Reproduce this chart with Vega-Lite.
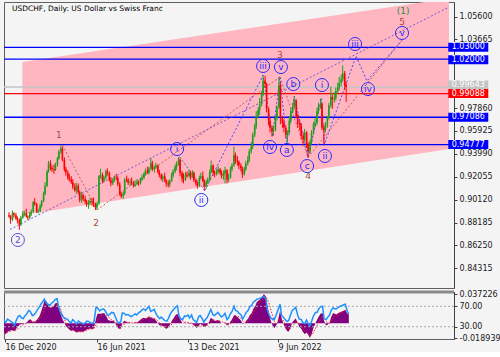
{
"$schema": "https://vega.github.io/schema/vega-lite/v6.json",
"background": "#f4f4f4",
"padding": {"left": 2, "top": 1, "right": 0, "bottom": 0},
"bounds": "flush",
"config": {"font": "DejaVu Sans", "view": {"stroke": "#606060", "strokeWidth": 1}, "axis": {"labelFont": "DejaVu Sans", "labelFontSize": 8, "labelColor": "#1a1a1a", "domainColor": "#404040", "tickColor": "#404040", "grid": false, "title": null, "labelOverlap": false, "labelFlush": false, "labelBound": false}},
"spacing": 4,
"datasets": {
"b": [
{"d":"2020-12-14","o":0.888,"h":0.8905,"l":0.886,"c":0.887,"m":-0.013,"s":-0.012,"r":42},
{"d":"2020-12-17","o":0.887,"h":0.888,"l":0.8808,"c":0.8845,"m":-0.014,"s":-0.013,"r":38},
{"d":"2020-12-21","o":0.8845,"h":0.892,"l":0.883,"c":0.8895,"m":-0.011,"s":-0.012,"r":45},
{"d":"2020-12-24","o":0.8895,"h":0.8905,"l":0.886,"c":0.888,"m":-0.01,"s":-0.011,"r":43},
{"d":"2020-12-28","o":0.888,"h":0.89,"l":0.884,"c":0.8855,"m":-0.009,"s":-0.01,"r":40},
{"d":"2020-12-31","o":0.8855,"h":0.887,"l":0.881,"c":0.884,"m":-0.009,"s":-0.009,"r":38},
{"d":"2021-01-04","o":0.884,"h":0.885,"l":0.8757,"c":0.88,"m":-0.01,"s":-0.0095,"r":33},
{"d":"2021-01-07","o":0.88,"h":0.8875,"l":0.879,"c":0.886,"m":-0.007,"s":-0.0085,"r":42},
{"d":"2021-01-11","o":0.886,"h":0.8915,"l":0.885,"c":0.889,"m":-0.004,"s":-0.007,"r":50},
{"d":"2021-01-14","o":0.889,"h":0.892,"l":0.887,"c":0.89,"m":-0.002,"s":-0.005,"r":52},
{"d":"2021-01-18","o":0.89,"h":0.8935,"l":0.886,"c":0.887,"m":-0.001,"s":-0.003,"r":47},
{"d":"2021-01-21","o":0.887,"h":0.888,"l":0.884,"c":0.886,"m":-0.001,"s":-0.002,"r":46},
{"d":"2021-01-25","o":0.886,"h":0.891,"l":0.885,"c":0.8895,"m":0.0,"s":-0.001,"r":52},
{"d":"2021-01-28","o":0.8895,"h":0.893,"l":0.8875,"c":0.891,"m":0.001,"s":0.0,"r":55},
{"d":"2021-02-01","o":0.891,"h":0.9,"l":0.89,"c":0.899,"m":0.004,"s":0.001,"r":62},
{"d":"2021-02-04","o":0.899,"h":0.9025,"l":0.896,"c":0.8975,"m":0.005,"s":0.003,"r":60},
{"d":"2021-02-08","o":0.8975,"h":0.8985,"l":0.89,"c":0.891,"m":0.002,"s":0.003,"r":52},
{"d":"2021-02-11","o":0.891,"h":0.8935,"l":0.8895,"c":0.8915,"m":0.001,"s":0.002,"r":53},
{"d":"2021-02-15","o":0.8915,"h":0.8975,"l":0.8905,"c":0.896,"m":0.003,"s":0.002,"r":58},
{"d":"2021-02-18","o":0.896,"h":0.901,"l":0.8945,"c":0.9,"m":0.005,"s":0.003,"r":63},
{"d":"2021-02-22","o":0.9,"h":0.908,"l":0.899,"c":0.906,"m":0.009,"s":0.006,"r":69},
{"d":"2021-02-25","o":0.906,"h":0.916,"l":0.905,"c":0.913,"m":0.014,"s":0.009,"r":74},
{"d":"2021-03-01","o":0.913,"h":0.9265,"l":0.912,"c":0.925,"m":0.022,"s":0.014,"r":80},
{"d":"2021-03-04","o":0.925,"h":0.934,"l":0.924,"c":0.932,"m":0.029,"s":0.02,"r":84},
{"d":"2021-03-08","o":0.932,"h":0.9345,"l":0.926,"c":0.928,"m":0.028,"s":0.024,"r":76},
{"d":"2021-03-11","o":0.928,"h":0.93,"l":0.9245,"c":0.927,"m":0.024,"s":0.025,"r":74},
{"d":"2021-03-15","o":0.927,"h":0.931,"l":0.923,"c":0.926,"m":0.02,"s":0.023,"r":72},
{"d":"2021-03-18","o":0.926,"h":0.9325,"l":0.9255,"c":0.931,"m":0.02,"s":0.021,"r":76},
{"d":"2021-03-22","o":0.931,"h":0.9375,"l":0.929,"c":0.936,"m":0.022,"s":0.021,"r":79},
{"d":"2021-03-25","o":0.936,"h":0.9435,"l":0.935,"c":0.942,"m":0.025,"s":0.023,"r":83},
{"d":"2021-03-29","o":0.942,"h":0.9473,"l":0.94,"c":0.9445,"m":0.026,"s":0.024,"r":85},
{"d":"2021-04-01","o":0.9445,"h":0.946,"l":0.9335,"c":0.935,"m":0.02,"s":0.023,"r":68},
{"d":"2021-04-05","o":0.935,"h":0.937,"l":0.925,"c":0.927,"m":0.012,"s":0.018,"r":57},
{"d":"2021-04-08","o":0.927,"h":0.929,"l":0.9215,"c":0.924,"m":0.006,"s":0.012,"r":52},
{"d":"2021-04-12","o":0.924,"h":0.926,"l":0.918,"c":0.92,"m":0.001,"s":0.006,"r":47},
{"d":"2021-04-15","o":0.92,"h":0.923,"l":0.9165,"c":0.9185,"m":-0.003,"s":0.001,"r":46},
{"d":"2021-04-19","o":0.9185,"h":0.921,"l":0.9145,"c":0.916,"m":-0.006,"s":-0.003,"r":44},
{"d":"2021-04-22","o":0.916,"h":0.9185,"l":0.91,"c":0.912,"m":-0.008,"s":-0.006,"r":40},
{"d":"2021-04-26","o":0.912,"h":0.915,"l":0.908,"c":0.909,"m":-0.01,"s":-0.008,"r":38},
{"d":"2021-04-29","o":0.909,"h":0.9155,"l":0.906,"c":0.913,"m":-0.009,"s":-0.009,"r":44},
{"d":"2021-05-03","o":0.913,"h":0.915,"l":0.906,"c":0.9075,"m":-0.01,"s":-0.01,"r":40},
{"d":"2021-05-06","o":0.9075,"h":0.909,"l":0.899,"c":0.901,"m":-0.012,"s":-0.011,"r":35},
{"d":"2021-05-10","o":0.901,"h":0.908,"l":0.8985,"c":0.905,"m":-0.011,"s":-0.011,"r":41},
{"d":"2021-05-13","o":0.905,"h":0.9065,"l":0.9,"c":0.902,"m":-0.011,"s":-0.011,"r":39},
{"d":"2021-05-17","o":0.902,"h":0.9045,"l":0.8975,"c":0.8995,"m":-0.011,"s":-0.011,"r":37},
{"d":"2021-05-20","o":0.8995,"h":0.901,"l":0.895,"c":0.897,"m":-0.011,"s":-0.011,"r":35},
{"d":"2021-05-24","o":0.897,"h":0.901,"l":0.8935,"c":0.8985,"m":-0.009,"s":-0.01,"r":38},
{"d":"2021-05-27","o":0.8985,"h":0.903,"l":0.8965,"c":0.9,"m":-0.008,"s":-0.009,"r":41},
{"d":"2021-05-31","o":0.9,"h":0.9025,"l":0.896,"c":0.899,"m":-0.007,"s":-0.008,"r":40},
{"d":"2021-06-03","o":0.899,"h":0.903,"l":0.895,"c":0.897,"m":-0.007,"s":-0.007,"r":38},
{"d":"2021-06-07","o":0.897,"h":0.8985,"l":0.8925,"c":0.8945,"m":-0.008,"s":-0.007,"r":36},
{"d":"2021-06-10","o":0.8945,"h":0.8995,"l":0.893,"c":0.898,"m":-0.006,"s":-0.007,"r":40},
{"d":"2021-06-14","o":0.898,"h":0.922,"l":0.8965,"c":0.921,"m":0.006,"s":-0.002,"r":68},
{"d":"2021-06-17","o":0.921,"h":0.9274,"l":0.919,"c":0.922,"m":0.012,"s":0.004,"r":67},
{"d":"2021-06-21","o":0.922,"h":0.924,"l":0.915,"c":0.917,"m":0.012,"s":0.008,"r":61},
{"d":"2021-06-24","o":0.917,"h":0.9215,"l":0.916,"c":0.92,"m":0.012,"s":0.01,"r":63},
{"d":"2021-06-28","o":0.92,"h":0.9265,"l":0.918,"c":0.925,"m":0.013,"s":0.011,"r":65},
{"d":"2021-07-01","o":0.925,"h":0.9275,"l":0.9215,"c":0.9235,"m":0.012,"s":0.012,"r":63},
{"d":"2021-07-05","o":0.9235,"h":0.925,"l":0.9165,"c":0.918,"m":0.008,"s":0.01,"r":56},
{"d":"2021-07-08","o":0.918,"h":0.92,"l":0.9125,"c":0.915,"m":0.004,"s":0.008,"r":52},
{"d":"2021-07-12","o":0.915,"h":0.9195,"l":0.9135,"c":0.9175,"m":0.003,"s":0.006,"r":55},
{"d":"2021-07-15","o":0.9175,"h":0.9215,"l":0.916,"c":0.92,"m":0.003,"s":0.004,"r":58},
{"d":"2021-07-19","o":0.92,"h":0.923,"l":0.9175,"c":0.9195,"m":0.003,"s":0.003,"r":57},
{"d":"2021-07-22","o":0.9195,"h":0.921,"l":0.9125,"c":0.914,"m":0.0,"s":0.002,"r":50},
{"d":"2021-07-26","o":0.914,"h":0.916,"l":0.9045,"c":0.906,"m":-0.005,"s":-0.001,"r":40},
{"d":"2021-07-29","o":0.906,"h":0.908,"l":0.9025,"c":0.904,"m":-0.007,"s":-0.004,"r":37},
{"d":"2021-08-02","o":0.904,"h":0.908,"l":0.9018,"c":0.9065,"m":-0.007,"s":-0.006,"r":40},
{"d":"2021-08-05","o":0.9065,"h":0.9195,"l":0.905,"c":0.918,"m":0.0,"s":-0.004,"r":57},
{"d":"2021-08-09","o":0.918,"h":0.9215,"l":0.916,"c":0.9175,"m":0.003,"s":-0.001,"r":56},
{"d":"2021-08-12","o":0.9175,"h":0.9195,"l":0.9135,"c":0.9155,"m":0.002,"s":0.001,"r":53},
{"d":"2021-08-16","o":0.9155,"h":0.9185,"l":0.913,"c":0.916,"m":0.001,"s":0.001,"r":54},
{"d":"2021-08-19","o":0.916,"h":0.92,"l":0.9135,"c":0.915,"m":0.001,"s":0.001,"r":52},
{"d":"2021-08-23","o":0.915,"h":0.917,"l":0.9115,"c":0.913,"m":0.0,"s":0.001,"r":50},
{"d":"2021-08-26","o":0.913,"h":0.9175,"l":0.912,"c":0.914,"m":0.0,"s":0.0,"r":52},
{"d":"2021-08-30","o":0.914,"h":0.9185,"l":0.914,"c":0.916,"m":0.001,"s":0.001,"r":55},
{"d":"2021-09-02","o":0.916,"h":0.9175,"l":0.913,"c":0.915,"m":0.001,"s":0.001,"r":53},
{"d":"2021-09-06","o":0.915,"h":0.9195,"l":0.914,"c":0.918,"m":0.002,"s":0.001,"r":57},
{"d":"2021-09-09","o":0.918,"h":0.9225,"l":0.917,"c":0.92,"m":0.004,"s":0.002,"r":59},
{"d":"2021-09-13","o":0.92,"h":0.9245,"l":0.9185,"c":0.923,"m":0.006,"s":0.004,"r":63},
{"d":"2021-09-16","o":0.923,"h":0.9275,"l":0.9215,"c":0.9255,"m":0.007,"s":0.005,"r":65},
{"d":"2021-09-20","o":0.9255,"h":0.929,"l":0.923,"c":0.924,"m":0.006,"s":0.006,"r":62},
{"d":"2021-09-23","o":0.924,"h":0.929,"l":0.9225,"c":0.9275,"m":0.007,"s":0.006,"r":66},
{"d":"2021-09-27","o":0.9275,"h":0.9365,"l":0.926,"c":0.932,"m":0.009,"s":0.007,"r":70},
{"d":"2021-09-30","o":0.932,"h":0.934,"l":0.9255,"c":0.927,"m":0.007,"s":0.007,"r":60},
{"d":"2021-10-04","o":0.927,"h":0.93,"l":0.924,"c":0.9285,"m":0.006,"s":0.007,"r":62},
{"d":"2021-10-07","o":0.9285,"h":0.9325,"l":0.927,"c":0.93,"m":0.006,"s":0.006,"r":64},
{"d":"2021-10-11","o":0.93,"h":0.931,"l":0.9235,"c":0.925,"m":0.003,"s":0.005,"r":55},
{"d":"2021-10-14","o":0.925,"h":0.9265,"l":0.92,"c":0.922,"m":0.0,"s":0.003,"r":50},
{"d":"2021-10-18","o":0.922,"h":0.9235,"l":0.9175,"c":0.919,"m":-0.003,"s":0.0,"r":46},
{"d":"2021-10-21","o":0.919,"h":0.9225,"l":0.916,"c":0.921,"m":-0.003,"s":-0.002,"r":49},
{"d":"2021-10-25","o":0.921,"h":0.924,"l":0.916,"c":0.9175,"m":-0.004,"s":-0.003,"r":45},
{"d":"2021-10-28","o":0.9175,"h":0.9185,"l":0.912,"c":0.915,"m":-0.006,"s":-0.004,"r":42},
{"d":"2021-11-01","o":0.915,"h":0.9175,"l":0.9115,"c":0.914,"m":-0.007,"s":-0.005,"r":41},
{"d":"2021-11-04","o":0.914,"h":0.9185,"l":0.912,"c":0.917,"m":-0.005,"s":-0.005,"r":46},
{"d":"2021-11-08","o":0.917,"h":0.924,"l":0.916,"c":0.9215,"m":-0.001,"s":-0.004,"r":55},
{"d":"2021-11-11","o":0.9215,"h":0.927,"l":0.92,"c":0.925,"m":0.003,"s":-0.001,"r":60},
{"d":"2021-11-15","o":0.925,"h":0.931,"l":0.9235,"c":0.929,"m":0.007,"s":0.003,"r":64},
{"d":"2021-11-18","o":0.929,"h":0.9335,"l":0.926,"c":0.932,"m":0.01,"s":0.006,"r":68},
{"d":"2021-11-22","o":0.932,"h":0.9373,"l":0.93,"c":0.935,"m":0.012,"s":0.009,"r":71},
{"d":"2021-11-25","o":0.935,"h":0.936,"l":0.921,"c":0.924,"m":0.008,"s":0.009,"r":52},
{"d":"2021-11-29","o":0.924,"h":0.9255,"l":0.916,"c":0.919,"m":0.003,"s":0.006,"r":45},
{"d":"2021-12-02","o":0.919,"h":0.9235,"l":0.915,"c":0.918,"m":0.0,"s":0.003,"r":44},
{"d":"2021-12-06","o":0.918,"h":0.9245,"l":0.917,"c":0.9225,"m":0.001,"s":0.002,"r":51},
{"d":"2021-12-09","o":0.9225,"h":0.925,"l":0.9195,"c":0.9215,"m":0.0,"s":0.001,"r":50},
{"d":"2021-12-13","o":0.9215,"h":0.9265,"l":0.92,"c":0.924,"m":0.001,"s":0.001,"r":53},
{"d":"2021-12-16","o":0.924,"h":0.9255,"l":0.918,"c":0.92,"m":-0.001,"s":0.0,"r":47},
{"d":"2021-12-20","o":0.92,"h":0.926,"l":0.9195,"c":0.924,"m":0.0,"s":0.0,"r":53},
{"d":"2021-12-23","o":0.924,"h":0.925,"l":0.916,"c":0.9175,"m":-0.002,"s":-0.001,"r":44},
{"d":"2021-12-27","o":0.9175,"h":0.919,"l":0.913,"c":0.915,"m":-0.004,"s":-0.002,"r":41},
{"d":"2021-12-30","o":0.915,"h":0.9165,"l":0.9105,"c":0.913,"m":-0.006,"s":-0.004,"r":38},
{"d":"2022-01-03","o":0.913,"h":0.9215,"l":0.912,"c":0.9195,"m":-0.003,"s":-0.004,"r":50},
{"d":"2022-01-06","o":0.9195,"h":0.924,"l":0.918,"c":0.921,"m":-0.001,"s":-0.003,"r":52},
{"d":"2022-01-10","o":0.921,"h":0.925,"l":0.916,"c":0.917,"m":-0.002,"s":-0.002,"r":46},
{"d":"2022-01-13","o":0.917,"h":0.9185,"l":0.9089,"c":0.912,"m":-0.005,"s":-0.003,"r":39},
{"d":"2022-01-17","o":0.912,"h":0.918,"l":0.9105,"c":0.916,"m":-0.004,"s":-0.004,"r":45},
{"d":"2022-01-20","o":0.916,"h":0.92,"l":0.9145,"c":0.918,"m":-0.002,"s":-0.003,"r":48},
{"d":"2022-01-24","o":0.918,"h":0.9265,"l":0.9165,"c":0.9245,"m":0.002,"s":-0.001,"r":57},
{"d":"2022-01-27","o":0.9245,"h":0.9343,"l":0.9235,"c":0.93,"m":0.007,"s":0.002,"r":64},
{"d":"2022-01-31","o":0.93,"h":0.931,"l":0.9215,"c":0.924,"m":0.005,"s":0.004,"r":54},
{"d":"2022-02-03","o":0.924,"h":0.926,"l":0.92,"c":0.923,"m":0.003,"s":0.004,"r":52},
{"d":"2022-02-07","o":0.923,"h":0.927,"l":0.9215,"c":0.9245,"m":0.003,"s":0.003,"r":55},
{"d":"2022-02-10","o":0.9245,"h":0.9295,"l":0.923,"c":0.927,"m":0.004,"s":0.003,"r":58},
{"d":"2022-02-14","o":0.927,"h":0.928,"l":0.922,"c":0.924,"m":0.002,"s":0.003,"r":53},
{"d":"2022-02-17","o":0.924,"h":0.926,"l":0.919,"c":0.921,"m":0.0,"s":0.002,"r":49},
{"d":"2022-02-21","o":0.921,"h":0.926,"l":0.918,"c":0.923,"m":0.0,"s":0.001,"r":52},
{"d":"2022-02-24","o":0.923,"h":0.929,"l":0.915,"c":0.926,"m":0.001,"s":0.001,"r":56},
{"d":"2022-02-28","o":0.926,"h":0.927,"l":0.915,"c":0.918,"m":-0.003,"s":-0.001,"r":44},
{"d":"2022-03-03","o":0.918,"h":0.923,"l":0.916,"c":0.92,"m":-0.002,"s":-0.002,"r":47},
{"d":"2022-03-07","o":0.92,"h":0.929,"l":0.919,"c":0.927,"m":0.002,"s":-0.001,"r":56},
{"d":"2022-03-10","o":0.927,"h":0.932,"l":0.925,"c":0.93,"m":0.005,"s":0.001,"r":60},
{"d":"2022-03-14","o":0.93,"h":0.946,"l":0.929,"c":0.939,"m":0.01,"s":0.005,"r":70},
{"d":"2022-03-17","o":0.939,"h":0.941,"l":0.9315,"c":0.934,"m":0.01,"s":0.008,"r":62},
{"d":"2022-03-21","o":0.934,"h":0.938,"l":0.93,"c":0.933,"m":0.008,"s":0.009,"r":60},
{"d":"2022-03-24","o":0.933,"h":0.9345,"l":0.927,"c":0.93,"m":0.006,"s":0.008,"r":56},
{"d":"2022-03-28","o":0.93,"h":0.932,"l":0.925,"c":0.928,"m":0.003,"s":0.006,"r":53},
{"d":"2022-03-31","o":0.928,"h":0.929,"l":0.9195,"c":0.9225,"m":-0.001,"s":0.003,"r":45},
{"d":"2022-04-04","o":0.9225,"h":0.929,"l":0.9215,"c":0.927,"m":0.0,"s":0.001,"r":52},
{"d":"2022-04-07","o":0.927,"h":0.934,"l":0.9255,"c":0.932,"m":0.003,"s":0.001,"r":58},
{"d":"2022-04-11","o":0.932,"h":0.938,"l":0.93,"c":0.935,"m":0.006,"s":0.003,"r":62},
{"d":"2022-04-14","o":0.935,"h":0.944,"l":0.933,"c":0.942,"m":0.01,"s":0.006,"r":69},
{"d":"2022-04-18","o":0.942,"h":0.95,"l":0.94,"c":0.946,"m":0.013,"s":0.009,"r":72},
{"d":"2022-04-21","o":0.946,"h":0.958,"l":0.944,"c":0.956,"m":0.018,"s":0.013,"r":78},
{"d":"2022-04-25","o":0.956,"h":0.9655,"l":0.954,"c":0.963,"m":0.022,"s":0.017,"r":81},
{"d":"2022-04-28","o":0.963,"h":0.976,"l":0.961,"c":0.972,"m":0.027,"s":0.021,"r":84},
{"d":"2022-05-02","o":0.972,"h":0.9795,"l":0.97,"c":0.977,"m":0.029,"s":0.025,"r":85},
{"d":"2022-05-05","o":0.977,"h":0.987,"l":0.973,"c":0.982,"m":0.031,"s":0.028,"r":86},
{"d":"2022-05-09","o":0.982,"h":0.993,"l":0.98,"c":0.99,"m":0.034,"s":0.03,"r":88},
{"d":"2022-05-12","o":0.99,"h":1.0064,"l":0.9885,"c":1.002,"m":0.037,"s":0.033,"r":89},
{"d":"2022-05-16","o":1.002,"h":1.006,"l":0.9955,"c":0.999,"m":0.034,"s":0.034,"r":84},
{"d":"2022-05-19","o":0.999,"h":1.0,"l":0.975,"c":0.978,"m":0.022,"s":0.03,"r":62},
{"d":"2022-05-23","o":0.978,"h":0.979,"l":0.964,"c":0.968,"m":0.01,"s":0.024,"r":52},
{"d":"2022-05-26","o":0.968,"h":0.97,"l":0.958,"c":0.962,"m":0.002,"s":0.016,"r":47},
{"d":"2022-05-30","o":0.962,"h":0.964,"l":0.9545,"c":0.959,"m":-0.004,"s":0.008,"r":44},
{"d":"2022-06-02","o":0.959,"h":0.964,"l":0.9555,"c":0.96,"m":-0.006,"s":0.002,"r":45},
{"d":"2022-06-06","o":0.96,"h":0.972,"l":0.959,"c":0.97,"m":-0.002,"s":-0.001,"r":55},
{"d":"2022-06-09","o":0.97,"h":0.981,"l":0.968,"c":0.979,"m":0.004,"s":0.0,"r":63},
{"d":"2022-06-13","o":0.979,"h":1.0049,"l":0.978,"c":0.998,"m":0.016,"s":0.006,"r":74},
{"d":"2022-06-16","o":0.998,"h":1.0,"l":0.965,"c":0.97,"m":0.006,"s":0.006,"r":52},
{"d":"2022-06-20","o":0.97,"h":0.972,"l":0.962,"c":0.966,"m":-0.001,"s":0.003,"r":48},
{"d":"2022-06-23","o":0.966,"h":0.969,"l":0.958,"c":0.962,"m":-0.006,"s":-0.001,"r":44},
{"d":"2022-06-27","o":0.962,"h":0.964,"l":0.953,"c":0.956,"m":-0.01,"s":-0.005,"r":40},
{"d":"2022-06-30","o":0.956,"h":0.96,"l":0.9495,"c":0.958,"m":-0.011,"s":-0.008,"r":42},
{"d":"2022-07-04","o":0.958,"h":0.972,"l":0.956,"c":0.968,"m":-0.005,"s":-0.007,"r":54},
{"d":"2022-07-07","o":0.968,"h":0.979,"l":0.966,"c":0.976,"m":0.001,"s":-0.004,"r":62},
{"d":"2022-07-11","o":0.976,"h":0.983,"l":0.974,"c":0.98,"m":0.004,"s":-0.001,"r":65},
{"d":"2022-07-14","o":0.98,"h":0.9886,"l":0.978,"c":0.985,"m":0.006,"s":0.002,"r":68},
{"d":"2022-07-18","o":0.985,"h":0.986,"l":0.97,"c":0.972,"m":0.0,"s":0.001,"r":52},
{"d":"2022-07-21","o":0.972,"h":0.974,"l":0.962,"c":0.965,"m":-0.005,"s":-0.001,"r":45},
{"d":"2022-07-25","o":0.965,"h":0.968,"l":0.96,"c":0.964,"m":-0.007,"s":-0.004,"r":44},
{"d":"2022-07-28","o":0.964,"h":0.966,"l":0.952,"c":0.955,"m":-0.011,"s":-0.007,"r":38},
{"d":"2022-08-01","o":0.955,"h":0.958,"l":0.947,"c":0.952,"m":-0.014,"s":-0.01,"r":36},
{"d":"2022-08-04","o":0.952,"h":0.961,"l":0.95,"c":0.958,"m":-0.012,"s":-0.011,"r":43},
{"d":"2022-08-08","o":0.958,"h":0.959,"l":0.945,"c":0.948,"m":-0.015,"s":-0.013,"r":35},
{"d":"2022-08-11","o":0.948,"h":0.95,"l":0.937,"c":0.942,"m":-0.0189,"s":-0.015,"r":31},
{"d":"2022-08-15","o":0.942,"h":0.952,"l":0.94,"c":0.95,"m":-0.013,"s":-0.015,"r":42},
{"d":"2022-08-18","o":0.95,"h":0.96,"l":0.948,"c":0.958,"m":-0.006,"s":-0.012,"r":51},
{"d":"2022-08-22","o":0.958,"h":0.967,"l":0.956,"c":0.965,"m":0.0,"s":-0.007,"r":58},
{"d":"2022-08-25","o":0.965,"h":0.97,"l":0.962,"c":0.966,"m":0.004,"s":-0.003,"r":58},
{"d":"2022-08-29","o":0.966,"h":0.979,"l":0.964,"c":0.976,"m":0.009,"s":0.002,"r":66},
{"d":"2022-09-01","o":0.976,"h":0.983,"l":0.974,"c":0.98,"m":0.012,"s":0.006,"r":69},
{"d":"2022-09-05","o":0.98,"h":0.9866,"l":0.978,"c":0.982,"m":0.013,"s":0.009,"r":70},
{"d":"2022-09-08","o":0.982,"h":0.9835,"l":0.96,"c":0.962,"m":0.003,"s":0.007,"r":46},
{"d":"2022-09-12","o":0.962,"h":0.965,"l":0.948,"c":0.96,"m":-0.003,"s":0.003,"r":44},
{"d":"2022-09-15","o":0.96,"h":0.967,"l":0.958,"c":0.964,"m":-0.002,"s":0.0,"r":48},
{"d":"2022-09-19","o":0.964,"h":0.972,"l":0.962,"c":0.97,"m":0.001,"s":0.0,"r":53},
{"d":"2022-09-22","o":0.97,"h":0.983,"l":0.969,"c":0.981,"m":0.008,"s":0.003,"r":62},
{"d":"2022-09-26","o":0.981,"h":0.9966,"l":0.979,"c":0.988,"m":0.013,"s":0.007,"r":67},
{"d":"2022-09-29","o":0.988,"h":0.99,"l":0.978,"c":0.986,"m":0.012,"s":0.01,"r":65},
{"d":"2022-10-03","o":0.986,"h":0.992,"l":0.983,"c":0.987,"m":0.011,"s":0.011,"r":65},
{"d":"2022-10-06","o":0.987,"h":0.996,"l":0.985,"c":0.993,"m":0.013,"s":0.012,"r":68},
{"d":"2022-10-10","o":0.993,"h":1.0,"l":0.991,"c":0.996,"m":0.014,"s":0.013,"r":70},
{"d":"2022-10-13","o":0.996,"h":1.005,"l":0.994,"c":1.0,"m":0.015,"s":0.014,"r":71},
{"d":"2022-10-17","o":1.0,"h":1.007,"l":0.997,"c":1.003,"m":0.016,"s":0.015,"r":73},
{"d":"2022-10-20","o":1.003,"h":1.0148,"l":1.001,"c":1.008,"m":0.017,"s":0.016,"r":74},
{"d":"2022-10-24","o":1.008,"h":1.01,"l":0.994,"c":0.998,"m":0.012,"s":0.015,"r":60},
{"d":"2022-10-27","o":0.998,"h":1.001,"l":0.9837,"c":0.99643,"m":0.011356,"s":0.013477,"r":55.26}
],
"waves": [
{"g":"A","k":"w_red","d":"2021-04-01","p":0.9473},{"g":"A","k":"w_red","d":"2021-06-10","p":0.8925},
{"g":"B","k":"w_red","d":"2021-06-10","p":0.8925},{"g":"B","k":"w_red","d":"2022-06-15","p":1.0049},
{"g":"C","k":"w_red","d":"2022-06-15","p":1.0049},{"g":"C","k":"w_red","d":"2022-08-11","p":0.937},
{"g":"D","k":"w_red","d":"2022-08-11","p":0.937},{"g":"D","k":"w_red","d":"2023-02-17","p":1.0361},
{"g":"E","k":"w_purple","d":"2020-12-16","p":0.876},{"g":"E","k":"w_purple","d":"2023-05-23","p":1.064},
{"g":"F","k":"w_purple","d":"2021-11-24","p":0.9373},{"g":"F","k":"w_purple","d":"2022-01-14","p":0.9089},
{"g":"G","k":"w_blue","d":"2022-01-14","p":0.9089},{"g":"G","k":"w_blue","d":"2022-05-12","p":1.0064},{"g":"G","k":"w_blue","d":"2022-05-31","p":0.9545},{"g":"G","k":"w_blue","d":"2022-06-15","p":1.0049},
{"g":"H","k":"w_blue","d":"2022-06-15","p":1.0049},{"g":"H","k":"w_blue","d":"2022-06-29","p":0.9495},{"g":"H","k":"w_blue","d":"2022-07-14","p":0.9886},{"g":"H","k":"w_blue","d":"2022-08-11","p":0.937},
{"g":"I","k":"w_blue","d":"2022-08-11","p":0.937},{"g":"I","k":"w_blue","d":"2022-09-07","p":0.9866},{"g":"I","k":"w_blue","d":"2022-09-13","p":0.948},{"g":"I","k":"w_blue","d":"2022-11-16","p":1.0226},{"g":"I","k":"w_blue","d":"2022-12-08","p":1.0015},{"g":"I","k":"w_blue","d":"2023-02-17","p":1.0361}
],
"marks": [
{"t":"2","k":"minor","d":"2021-01-01","p":0.8671},
{"t":"1","k":"int","d":"2021-03-25","p":0.9558},
{"t":"2","k":"int","d":"2021-06-08","p":0.8815},
{"t":"i","k":"minute","d":"2021-11-19","p":0.944},
{"t":"ii","k":"minute","d":"2022-01-07","p":0.9009},
{"t":"iii","k":"minute","d":"2022-05-12","p":1.0142},
{"t":"iv","k":"minute","d":"2022-05-26","p":0.9457},
{"t":"v","k":"minute","d":"2022-06-17","p":1.0133},
{"t":"3","k":"int","d":"2022-06-15","p":1.0235},
{"t":"a","k":"minute","d":"2022-06-29","p":0.9432},
{"t":"b","k":"minute","d":"2022-07-12","p":0.9989},
{"t":"c","k":"minute","d":"2022-08-09","p":0.9296},
{"t":"4","k":"int","d":"2022-08-11","p":0.9212},
{"t":"i","k":"minute","d":"2022-09-08","p":0.9981},
{"t":"ii","k":"minute","d":"2022-09-14","p":0.9381},
{"t":"iii","k":"minute","d":"2022-11-14","p":1.0328},
{"t":"iv","k":"minute","d":"2022-12-10","p":0.9947},
{"t":"v","k":"minute","d":"2023-02-17","p":1.0421},
{"t":"5","k":"int","d":"2023-02-17","p":1.0514},
{"t":"(1)","k":"prim","d":"2023-02-19","p":1.0606}
],
"levels": [
{"p":1.03,"k":"lvl_blue"},{"p":1.02,"k":"lvl_blue"},{"p":0.99643,"k":"lvl_bid"},{"p":0.99088,"k":"lvl_red"},{"p":0.97086,"k":"lvl_blue"},{"p":0.94777,"k":"lvl_blue"}
],
"tags": [
{"p":1.03,"t":"1.03000","k":"lvl_blue"},{"p":1.0195,"t":"1.02000","k":"lvl_blue"},{"p":0.9981,"t":"0.99643","k":"lvl_bid"},{"p":0.99088,"t":"0.99088","k":"lvl_red"},{"p":0.97086,"t":"0.97086","k":"lvl_blue"},{"p":0.94777,"t":"0.94777","k":"lvl_blue"}
],
"channel": [
{"d":"2021-01-10","top":1.0175,"bot":0.8882},{"d":"2023-05-23","top":1.0714,"bot":0.944}
]
},
"vconcat": [
{
"width": 450, "height": 286,
"layer": [
{"data": {"name": "channel"}, "mark": {"type": "area", "color": "#ffb6c1", "clip": true, "opacity": 1},
 "encoding": {
  "x": {"field": "d", "type": "temporal", "scale": {"domain": [{"year": 2020, "month": 12, "date": 14}, {"year": 2023, "month": 5, "date": 23}]}, "axis": null},
  "y": {"field": "top", "type": "quantitative", "scale": {"domain": [0.8265, 1.0683], "nice": false, "zero": false},
        "axis": {"orient": "right", "values": [1.056, 1.03665, 0.9786, 0.95925, 0.9399, 0.92055, 0.9012, 0.88185, 0.8625, 0.84315], "tickCount": 40, "format": ".5f", "tickSize": 3, "labelPadding": 2, "zindex": 0, "labelOverlap": false, "labelBound": false, "labelFlush": false}},
  "y2": {"field": "bot"}}},
{"data": {"name": "levels"}, "mark": {"type": "rule", "strokeWidth": 1.3},
 "encoding": {"y": {"field": "p", "type": "quantitative"},
  "color": {"field": "k", "type": "nominal", "legend": null, "scale": {"domain": ["lvl_blue","lvl_red","lvl_bid","w_red","w_purple","w_blue","minute","minor","int","prim"], "range": ["#0000ff","#ff0000","#c4c4c4","#cc5a5a","#7a5ac8","#4646ff","#2a2aff","#6a4cc8","#b04a3a","#2e8b3a"]}}}},
{"data": {"name": "waves"}, "mark": {"type": "line", "strokeDash": [2, 2], "strokeWidth": 1, "clip": true},
 "encoding": {"x": {"field": "d", "type": "temporal"}, "y": {"field": "p", "type": "quantitative"}, "detail": {"field": "g"},
  "color": {"field": "k", "type": "nominal", "legend": null}}},
{"data": {"name": "b"}, "mark": {"type": "rule", "strokeWidth": 1, "clip": true},
 "encoding": {"x": {"field": "d", "type": "temporal"}, "y": {"field": "l", "type": "quantitative"}, "y2": {"field": "h"},
  "color": {"condition": {"test": "datum.c >= datum.o", "value": "#1e9e1e"}, "value": "#ff0000"}}},
{"data": {"name": "b"}, "mark": {"type": "bar", "size": 1.6, "clip": true},
 "encoding": {"x": {"field": "d", "type": "temporal"}, "y": {"field": "o", "type": "quantitative"}, "y2": {"field": "c"},
  "color": {"condition": {"test": "datum.c >= datum.o", "value": "#1e9e1e"}, "value": "#ff0000"}}},
{"data": {"name": "marks"}, "transform": [{"filter": "datum.k == 'minute' || datum.k == 'minor'"}], "mark": {"type": "point", "shape": "circle", "filled": false, "size": 170, "strokeWidth": 1, "opacity": 1},
 "encoding": {"x": {"field": "d", "type": "temporal"}, "y": {"field": "p", "type": "quantitative"},
  "color": {"field": "k", "type": "nominal", "legend": null}}},
{"data": {"name": "marks"}, "mark": {"type": "text", "align": "center", "baseline": "middle"},
 "encoding": {"x": {"field": "d", "type": "temporal"}, "y": {"field": "p", "type": "quantitative"}, "text": {"field": "t"},
  "size": {"field": "k", "type": "nominal", "legend": null, "scale": {"domain": ["minute","minor","int","prim"], "range": [9, 9, 11, 11]}},
  "color": {"field": "k", "type": "nominal", "legend": null}}},
{"data": {"name": "tags"}, "mark": {"type": "point", "shape": "M-1,-0.225H1V0.225H-1Z", "size": 1600, "filled": true, "opacity": 1, "strokeWidth": 0, "zindex": 2},
 "encoding": {"x": {"datum": {"year": 2023, "month": 7, "date": 1}, "type": "temporal"}, "y": {"field": "p", "type": "quantitative"},
  "color": {"field": "k", "type": "nominal", "legend": null}}},
{"data": {"name": "tags"}, "mark": {"type": "text", "align": "center", "baseline": "middle", "fontSize": 8, "color": "#ffffff", "zindex": 3},
 "encoding": {"x": {"datum": {"year": 2023, "month": 7, "date": 1}, "type": "temporal"}, "y": {"field": "p", "type": "quantitative"}, "text": {"field": "t"}}},
{"data": {"values": [{"d": "2020-12-20", "p": 1.0623, "t": "USDCHF, Daily:  US Dollar vs Swiss Franc"}]}, "mark": {"type": "text", "align": "left", "baseline": "middle", "fontSize": 7.5, "color": "#000000"},
 "encoding": {"x": {"field": "d", "type": "temporal"}, "y": {"field": "p", "type": "quantitative"}, "text": {"field": "t"}}}
]
},
{
"width": 450, "height": 47,
"layer": [
{"layer": [
 {"data": {"name": "b"}, "mark": {"type": "area", "color": "#800080", "opacity": 1, "clip": true},
  "encoding": {
   "x": {"field": "d", "type": "temporal", "scale": {"domain": [{"year": 2020, "month": 12, "date": 14}, {"year": 2023, "month": 5, "date": 23}]},
         "axis": {"orient": "bottom", "values": [{"year": 2020, "month": 12, "date": 16}, {"year": 2021, "month": 6, "date": 16}, {"year": 2021, "month": 12, "date": 13}, {"year": 2022, "month": 6, "date": 9}], "tickCount": 40, "format": "%-d %b %Y", "labelAlign": "left", "labelPadding": 1, "tickSize": 3, "domain": false, "labelFontSize": 8, "labelOverlap": false}},
   "y": {"field": "m", "type": "quantitative", "scale": {"domain": [-0.0202, 0.0398], "nice": false, "zero": false},
         "axis": {"orient": "right", "values": [0.037226, -0.018939], "labelExpr": "datum.value > 0 ? '0.037226' : '-0.018939'", "tickSize": 3, "labelPadding": 2, "labelOverlap": false}},
   "y2": {"datum": 0}}},
 {"data": {"name": "b"}, "mark": {"type": "line", "color": "#ff2020", "strokeDash": [1.5, 1.5], "strokeWidth": 1, "clip": true},
  "encoding": {"x": {"field": "d", "type": "temporal"}, "y": {"field": "s", "type": "quantitative"}}}
]},
{"layer": [
 {"data": {"values": [{"v": 70}, {"v": 30}]}, "mark": {"type": "rule", "color": "#a8a8a8", "strokeDash": [2, 2], "strokeWidth": 1},
  "encoding": {"y": {"field": "v", "type": "quantitative", "scale": {"domain": [6, 98], "nice": false, "zero": false},
   "axis": {"orient": "right", "values": [70, 30], "format": ".2f", "tickSize": 3, "labelPadding": 2, "labelOverlap": false}}}},
 {"data": {"values": [{"v": 98}]}, "mark": {"type": "rule", "color": "#8a8a8a", "strokeWidth": 3},
  "encoding": {"y": {"field": "v", "type": "quantitative"}}},
 {"data": {"name": "b"}, "mark": {"type": "line", "color": "#1e90ff", "strokeWidth": 1.5, "clip": true},
  "encoding": {"x": {"field": "d", "type": "temporal"}, "y": {"field": "r", "type": "quantitative"}}}
]}
],
"resolve": {"scale": {"y": "independent"}, "axis": {"y": "independent"}}
}
]
}
